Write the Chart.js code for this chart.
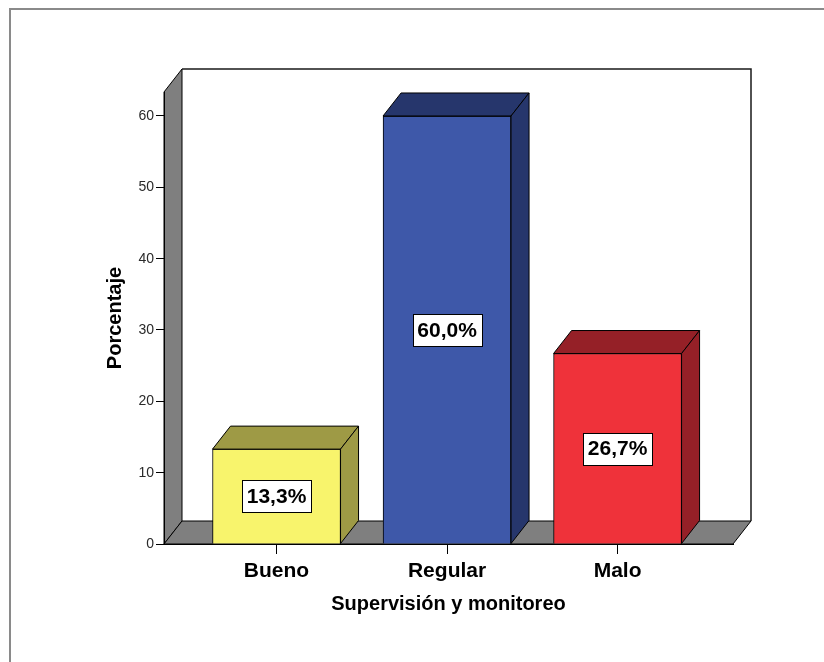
<!DOCTYPE html>
<html>
<head>
<meta charset="utf-8">
<script src="https://cdn.jsdelivr.net/npm/chart.js@4.4.0/dist/chart.umd.min.js"></script>
<style>
  html, body { margin: 0; padding: 0; background: #fff; overflow: hidden; }
  canvas { display: block; }
</style>
</head>
<body>
<canvas id="c" width="824" height="662"></canvas>
<script>
// Values
const categories = ['Bueno', 'Regular', 'Malo'];
const percentages = [13.3, 60.0, 26.7];

// Face colours: front face and darker top/side faces
const frontColors = ['#F8F46C', '#3E58A9', '#EF323A'];
const shadeColors = ['#9E9A45', '#26366C', '#952027'];

const DEPTH_X = 18;
const DEPTH_Y = -23;
const FONT = "'Liberation Sans', Arial, sans-serif";

function poly(ctx, pts, fill, stroke) {
  ctx.beginPath();
  ctx.moveTo(pts[0][0], pts[0][1]);
  for (let i = 1; i < pts.length; i++) ctx.lineTo(pts[i][0], pts[i][1]);
  ctx.closePath();
  if (fill) { ctx.fillStyle = fill; ctx.fill(); }
  if (stroke) { ctx.strokeStyle = stroke; ctx.stroke(); }
}

// Walls, floor and box faces for the 3D look
const box3d = {
  id: 'box3d',
  beforeDraw(chart) {
    const { ctx, chartArea: a } = chart;
    const L = a.left, R = a.right, T = a.top, B = a.bottom;
    const dx = DEPTH_X, dy = DEPTH_Y;
    ctx.save();
    // outer frame
    ctx.strokeStyle = '#8a8a8a';
    ctx.lineWidth = 2;
    ctx.strokeRect(10, 9, 1000, 1000);

    ctx.lineWidth = 1;
    ctx.lineJoin = 'miter';
    // back wall
    ctx.fillStyle = '#fff';
    ctx.fillRect(L + dx, T + dy, R - L, B - T);
    // left wall
    poly(ctx, [[L, B], [L, T], [L + dx, T + dy], [L + dx, B + dy]], '#7f7f7f', '#000');
    // floor
    poly(ctx, [[L, B], [R, B], [R + dx, B + dy], [L + dx, B + dy]], '#7f7f7f', '#000');
    // back wall edges
    ctx.lineWidth = 1.5;
    ctx.strokeStyle = '#1a1a1a';
    ctx.beginPath();
    ctx.moveTo(L + dx, T + dy);
    ctx.lineTo(R + dx, T + dy);
    ctx.lineTo(R + dx, B + dy);
    ctx.stroke();
    ctx.restore();
  },
  afterDatasetsDraw(chart) {
    const { ctx } = chart;
    const meta = chart.getDatasetMeta(0);
    const dx = DEPTH_X, dy = DEPTH_Y;
    ctx.save();
    ctx.lineWidth = 1;
    ctx.lineJoin = 'miter';
    meta.data.forEach((el, i) => {
      const x1 = el.x - el.width / 2, x2 = el.x + el.width / 2;
      const top = el.y, base = el.base;
      poly(ctx, [[x1, top], [x1 + dx, top + dy], [x2 + dx, top + dy], [x2, top]], shadeColors[i], '#000');
      poly(ctx, [[x2, top], [x2 + dx, top + dy], [x2 + dx, base + dy], [x2, base]], shadeColors[i], '#000');
    });
    // value labels in boxes
    ctx.font = 'bold 21px ' + FONT;
    ctx.textAlign = 'center';
    ctx.textBaseline = 'middle';
    meta.data.forEach((el, i) => {
      const text = percentages[i].toFixed(1).replace('.', ',') + '%';
      const tw = ctx.measureText(text).width;
      const w = Math.round(tw + 9), h = 32;
      const cy = (el.y + el.base) / 2;
      const bx = Math.round(el.x - w / 2) + 0.5, by = Math.round(cy - h / 2) + 0.5;
      ctx.fillStyle = '#fff';
      ctx.fillRect(bx, by, w, h);
      ctx.strokeStyle = '#000';
      ctx.strokeRect(bx, by, w, h);
      ctx.fillStyle = '#000';
      ctx.fillText(text, el.x, cy + 1);
    });
    ctx.restore();
  }
};

new Chart(document.getElementById('c'), {
  type: 'bar',
  data: {
    datasets: [{
      data: categories.map((c, i) => ({ x: i, y: percentages[i] })),
      backgroundColor: frontColors,
      borderColor: '#000',
      borderWidth: 1,
      barThickness: 128
    }]
  },
  options: {
    responsive: false,
    animation: false,
    devicePixelRatio: 1,
    layout: { padding: { left: 0, right: 91, top: 92, bottom: 0 } },
    plugins: { legend: { display: false }, tooltip: { enabled: false } },
    scales: {
      x: {
        type: 'linear',
        offset: false,
        min: -0.66,
        max: 2.677,
        afterBuildTicks: (s) => { s.ticks = categories.map((c, i) => ({ value: i })); },
        ticks: {
          callback: (v) => categories[v],
          font: { family: FONT, size: 21, weight: 'bold' },
          color: '#000',
          padding: 5,
          maxRotation: 0,
          autoSkip: false
        },
        grid: { offset: false, drawOnChartArea: false, tickLength: 10, color: '#000' },
        border: { color: '#000' },
        title: {
          display: true,
          text: 'Supervisión y monitoreo',
          font: { family: FONT, size: 20, weight: 'bold' },
          color: '#000',
          padding: { top: 0, bottom: 46 }
        },
        afterFit: (s) => { s.height = 118; }
      },
      y: {
        min: 0,
        max: 63.36,
        ticks: {
          stepSize: 10,
          includeBounds: false,
          font: { family: FONT, size: 14 },
          color: '#2a2a2a',
          padding: 2
        },
        grid: { drawOnChartArea: false, tickLength: 8, color: '#000' },
        border: { color: '#000' },
        title: {
          display: true,
          text: 'Porcentaje',
          font: { family: FONT, size: 20, weight: 'bold' },
          color: '#000',
          padding: { top: 103, bottom: 0 }
        },
        afterFit: (s) => { s.width = 164; }
      }
    }
  },
  plugins: [box3d]
});
</script>
</body>
</html>
